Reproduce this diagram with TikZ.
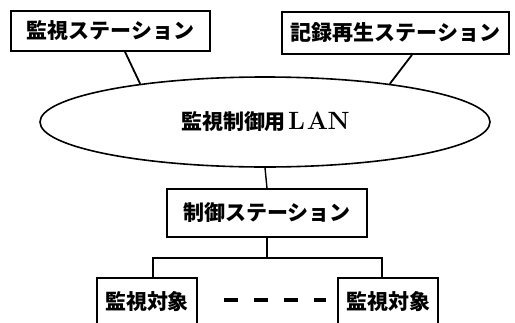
\documentclass[tikz,border=0pt]{standalone}
\usepackage{fontspec}
\newfontfamily\jp{Noto Sans CJK JP}
\usetikzlibrary{shapes.geometric,calc}
\tikzset{
  jpfont/.style={font=\jp\bfseries\fontsize{21}{23}\selectfont},
  box/.style={draw,line width=1.6pt,inner sep=0pt,jpfont},
  wire/.style={line width=1.8pt},
}
\begin{document}
\begin{tikzpicture}[x=1pt,y=-1pt]
\useasboundingbox (0,0) rectangle (515,322);
\clip (0,0) rectangle (515,322);
\node[box,minimum width=199pt,minimum height=40pt] (mon) at (110.5,31) {監視ステーション};
\node[box,minimum width=227pt,minimum height=42pt] (rec) at (395.5,33) {記録再生ステーション};
\node[draw,ellipse,line width=1.6pt,minimum width=450pt,minimum height=90pt,inner sep=0pt,jpfont] (lan) at (265,122)
  {監視制御用{\rmfamily\fontsize{25}{27}\selectfont\makebox[21pt]{L}\makebox[21pt]{A}\makebox[21pt]{N}}};
\node[box,minimum width=200pt,minimum height=48pt] (ctrl) at (267,213) {制御ステーション};
\node[box,minimum width=100pt,minimum height=48pt] (lb) at (147,302) {監視対象};
\node[box,minimum width=100pt,minimum height=48pt] (rb) at (388,302) {監視対象};
\draw[wire] ($(mon.south)+(14.5,0)$) -- (lan.163.8);
\draw[wire] ($(rec.south)+(16.5,0)$) -- (lan.17.6);
\draw[line width=1.4pt] (lan.south) -- (ctrl.north);
\draw[line width=1.4pt] (ctrl.south) -- ++(0,20) coordinate (j);
\draw[line width=1.4pt] ($(lb.north)+(6,0)$) |- (j) -| ($(rb.north)+(-6,0)$);
\draw[line width=4pt,dash pattern=on 14pt off 16pt] ($(lb.east)+(26,-2)$) -- ($(rb.west)+(-11,-2)$);
\end{tikzpicture}
\end{document}
